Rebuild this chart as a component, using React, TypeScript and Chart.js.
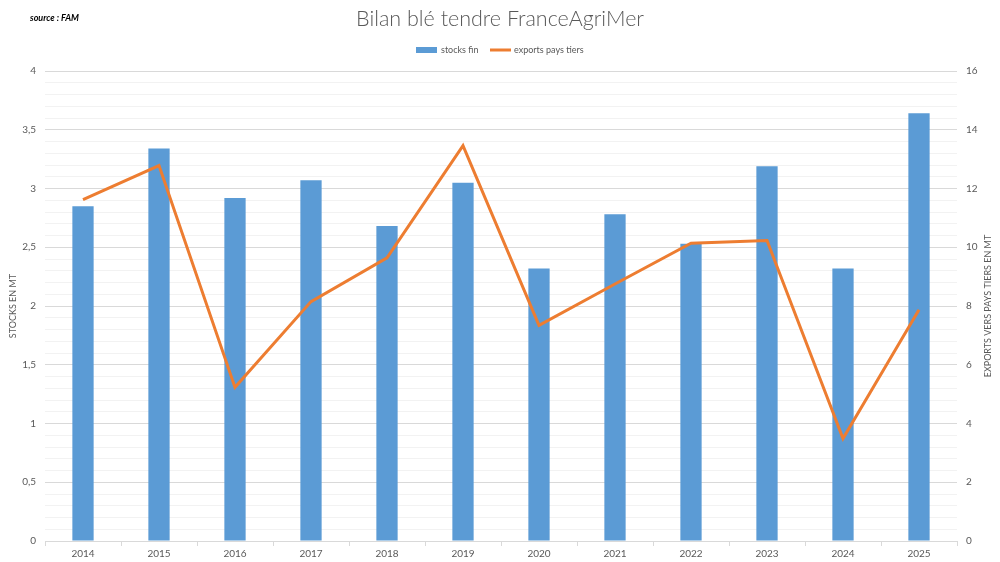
import React, { useEffect, useRef } from "react";
import { Chart, registerables } from "chart.js";

Chart.register(...registerables);

const categories = ["2014", "2015", "2016", "2017", "2018", "2019", "2020", "2021", "2022", "2023", "2024", "2025"];
const stocksFin = [2.85, 3.34, 2.92, 3.07, 2.68, 3.05, 2.32, 2.78, 2.53, 3.19, 2.32, 3.64];
const exportsPaysTiers = [11.62, 12.78, 5.23, 8.15, 9.64, 13.46, 7.34, 8.75, 10.14, 10.23, 3.49, 7.87];

const TITLE = "Bilan blé tendre FranceAgriMer";
const SOURCE = "source : FAM";
const LEFT_TITLE = "STOCKS EN MT";
const RIGHT_TITLE = "EXPORTS VERS PAYS TIERS EN MT";
const LEGEND_BAR = "stocks fin";
const LEGEND_LINE = "exports pays tiers";

const BLUE = "#5B9BD5";
const ORANGE = "#ED7D31";
const TEXT = "#595959";
const FONT = "Lato, 'Open Sans', sans-serif";

const decorPlugin = {
  id: "decor",
  afterDraw(chart: any) {
    const ctx = chart.ctx;
    const area = chart.chartArea;
    ctx.save();
    // source
    ctx.fillStyle = "#000";
    ctx.font = `italic bold 9px ${FONT}`;
    ctx.textAlign = "left";
    ctx.textBaseline = "middle";
    ctx.fillText(SOURCE, 30, 18);
    // title
    ctx.fillStyle = TEXT;
    ctx.font = `300 21.5px ${FONT}`;
    ctx.textAlign = "center";
    ctx.fillText(TITLE, 500, 19);
    // legend
    ctx.font = `9px ${FONT}`;
    ctx.textAlign = "left";
    ctx.fillStyle = BLUE;
    ctx.fillRect(416, 47, 21, 6);
    ctx.fillStyle = TEXT;
    ctx.fillText(LEGEND_BAR, 441, 50);
    ctx.strokeStyle = ORANGE;
    ctx.lineWidth = 3;
    ctx.beginPath();
    ctx.moveTo(490, 50);
    ctx.lineTo(511, 50);
    ctx.stroke();
    ctx.fillText(LEGEND_LINE, 514, 50);
    // axis titles
    const cy = (area.top + area.bottom) / 2;
    ctx.font = `9px ${FONT}`;
    ctx.textAlign = "center";
    ctx.save();
    ctx.translate(13, cy);
    ctx.rotate(-Math.PI / 2);
    ctx.fillText(LEFT_TITLE, 0, 0);
    ctx.restore();
    ctx.save();
    ctx.translate(988, cy);
    ctx.rotate(-Math.PI / 2);
    ctx.fillText(RIGHT_TITLE, 0, 0);
    ctx.restore();
    ctx.restore();
  },
};

export default function App() {
  const ref = useRef<HTMLCanvasElement | null>(null);

  useEffect(() => {
    document.body.style.margin = "0";
    const canvas = ref.current;
    if (!canvas) return;
    const isMajor = (v: number) => Math.abs(v * 2 - Math.round(v * 2)) < 1e-6;
    const chart = new Chart(canvas, {
      type: "bar",
      data: {
        labels: categories,
        datasets: [
          {
            type: "line",
            label: LEGEND_LINE,
            data: exportsPaysTiers,
            borderColor: ORANGE,
            backgroundColor: ORANGE,
            borderWidth: 3,
            pointRadius: 0,
            tension: 0,
            yAxisID: "y1",
            order: 0,
          } as any,
          {
            type: "bar",
            label: LEGEND_BAR,
            data: stocksFin,
            backgroundColor: BLUE,
            borderWidth: 0,
            barPercentage: 0.28,
            categoryPercentage: 1,
            yAxisID: "y",
            order: 1,
          } as any,
        ],
      },
      options: {
        animation: false,
        responsive: true,
        maintainAspectRatio: false,
        layout: { padding: { top: 71, left: 0, right: 0, bottom: 0 } },
        plugins: {
          legend: { display: false },
          title: { display: false },
          tooltip: { enabled: false },
        },
        scales: {
          x: {
            offset: true,
            grid: {
              offset: true,
              drawOnChartArea: false,
              drawTicks: true,
              tickLength: 5,
              color: "#d9d9d9",
            },
            border: { display: true, color: "#d9d9d9" },
            ticks: { color: TEXT, font: { family: FONT, size: 10 }, padding: 2, maxRotation: 0 },
            afterFit(scale: any) {
              scale.height = 21;
            },
          },
          y: {
            position: "left",
            min: 0,
            max: 4,
            ticks: {
              stepSize: 0.1,
              autoSkip: false,
              color: TEXT,
              font: { family: FONT, size: 10 },
              padding: 9,
              callback: (v: any) => (isMajor(Number(v)) ? String(Math.round(Number(v) * 10) / 10).replace(".", ",") : ""),
            },
            grid: {
              drawTicks: false,
              lineWidth: 1,
              color: (c: any) => (c.tick && isMajor(c.tick.value) ? "#d9d9d9" : "#f2f2f2"),
            },
            border: { display: false },
            afterFit(scale: any) {
              scale.width = 45;
            },
          },
          y1: {
            position: "right",
            min: 0,
            max: 16,
            ticks: {
              stepSize: 2,
              color: TEXT,
              font: { family: FONT, size: 10 },
              padding: 9,
            },
            grid: { display: false, drawTicks: false },
            border: { display: false },
            afterFit(scale: any) {
              scale.width = 43;
            },
          },
        },
      },
      plugins: [decorPlugin],
    } as any);
    return () => chart.destroy();
  }, []);

  return (
    <div style={{ width: 1000, height: 562, position: "relative", background: "#fff" }}>
      <canvas ref={ref} />
    </div>
  );
}
